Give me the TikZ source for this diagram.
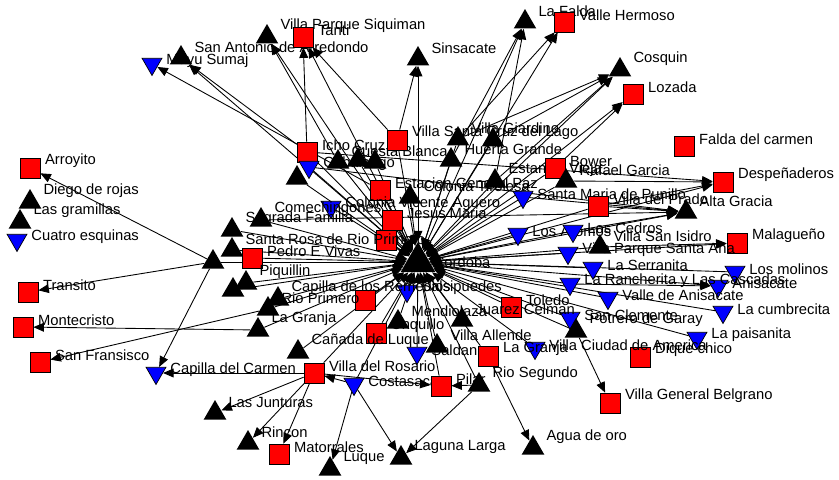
\documentclass[tikz,border=0pt]{standalone}
\usepackage{fontspec}
\setmainfont{Liberation Sans}
\usetikzlibrary{shapes.geometric, arrows.meta, backgrounds}
\definecolor{townred}{HTML}{FF0000}
\definecolor{townblue}{HTML}{0000FF}
\tikzset{
    lab/.style={font=\fontsize{8.4}{9}\selectfont, inner sep=1pt},
    sq/.style={rectangle, draw, fill=townred, minimum size=0.4cm, inner sep=0pt, label={[lab, label distance=1.5pt, yshift=0.14cm]east:#1}},
    sq/.default={},
    up/.style={regular polygon, regular polygon sides=3, fill=black, minimum size=0.52cm, inner sep=0pt, label={[lab, label distance=2pt, yshift=0.22cm]east:#1}},
    up/.default={},
    dn/.style={regular polygon, regular polygon sides=3, shape border rotate=180, draw, fill=townblue, minimum size=0.46cm, inner sep=0pt, label={[lab, label distance=3pt, yshift=0.06cm]east:#1}},
    dn/.default={},
    hub/.style={regular polygon, regular polygon sides=3, fill=black, minimum size=0.8cm, inner sep=0pt, label={[lab, label distance=1pt]east:#1}},
    arr/.style={-{Triangle[length=6pt, width=5pt]}, line width=0.5pt},
    bi/.style={{Triangle[length=6pt, width=5pt]}-{Triangle[length=6pt, width=5pt]}, line width=0.5pt},
}

\begin{document}
\begin{tikzpicture}[x=0.02cm, y=-0.02cm]
\useasboundingbox (0,0) rectangle (839,480);

% -- hub --
\node[hub=Cordoba] (cba) at (418,262) {};

% -- north --
\node[dn=Mayu Sumaj] (mayu) at (152,64) {};
\node[up=San Antonio de Arredondo] (sanant) at (181,58) {};
\node[up=Villa Parque Siquiman] (vpsiq) at (267,37) {};
\node[sq=Tanti] (tanti) at (303,37) {};
\node[up=Sinsacate] (sinsacate) at (418,59) {};
\node[up=La Falda] (lafalda) at (525,22) {};
\node[sq=Valle Hermoso] (vhermoso) at (564,22) {};
\node[up=Cosquin] (cosquin) at (620,70) {};
\node[sq=Lozada] (lozada) at (633,94) {};
\node[sq=Falda del carmen] (fcarmen) at (684,146) {};

% -- east --
\node[sq=Despeñaderos] (despen) at (723,182) {};
\node[up=Alta Gracia] (altagracia) at (686,212) {};
\node[sq=Malagueño] (malagueno) at (737,243) {};
\node[dn=Los molinos] (losmolinos) at (735,272) {};
\node[dn=Anisacate] (anisacate) at (718,286) {};
\node[dn=La cumbrecita] (cumbrecita) at (723,312) {};
\node[dn=La paisanita] (paisanita) at (697,338) {};
\node[sq=Dique chico] (diquechico) at (640,357) {};
\node[sq=Villa General Belgrano] (vgb) at (610,403) {};

% -- south --
\node[up=Agua de oro] (aguadeoro) at (533,448) {};
\node[up=Laguna Larga] (lagunalarga) at (401,458) {};
\node[up=Luque] (luque) at (330,469) {};
\node[sq=Matorrales] (matorrales) at (279,454) {};
\node[up=Rincon] (rincon) at (248,443) {};
\node[up=Las Junturas] (junturas) at (215,413) {};
\node[dn=Capilla del Carmen] (capcarmen) at (156,373) {};

% -- west --
\node[sq=San Fransisco] (sanfran) at (40,362) {};
\node[sq=Montecristo] (montecristo) at (23,327) {};
\node[sq=Transito] (transito) at (28,292) {};
\node[dn=Cuatro esquinas] (cuatroesq) at (17,240) {};
\node[up=Las gramillas] (gramillas) at (20,222) {};
\node[up=Diego de rojas] (diegorojas) at (30,202) {};
\node[sq=Arroyito] (arroyito) at (30,168) {};

% -- inner north --
\node[sq=Icho Cruz] (icho) at (307,152) {};
\node[up=Cuesta Blanca] (cuesta) at (338,162) {};
\node[dn=Cabalango] (cabalango) at (309,167) {};
\node[up] (n1) at (297,178) {};
\node[up] (n2) at (358,160) {};
\node[up] (n3) at (375,162) {};
\node[sq=Villa Santa Cruz del Lago] (vscdl) at (397,140) {};
\node[up=Villa Giardino] (giardino) at (458,139) {};
\node[up=Huerta Grande] (huerta) at (451,160) {};
\node[up] (n4) at (493,140) {};
\node[sq=Estacion General Paz] (egpaz) at (380,190) {};
\node[up=Colonia Tirolesa] (colonia) at (410,197) {};
\node[dn=Colonia Vicente Aguero] (cvaguero) at (331,207) {};
\node[sq=Jesus Maria] (jesusmaria) at (392,220) {};
\node[sq] (n5) at (386,240) {};

% -- inner east --
\node[up=Estancia Vieja] (estvieja) at (495,181) {};
\node[sq=Bower] (bower) at (555,168) {};
\node[up=Rafael Garcia] (rgarcia) at (566,181) {};
\node[dn=Santa Maria de Punillo] (smaria) at (523,197) {};
\node[sq=Villa del Prado] (vprado) at (598,206) {};
\node[dn=Los Aromos] (aromos) at (518,234) {};
\node[dn=Los Cedros] (cedros) at (573,231) {};
\node[up=Villa San Isidro] (sanisidro) at (600,247) {};
\node[dn=Villa Parque Santa Ana] (vpsa) at (568,253) {};
\node[dn=La Serranita] (serranita) at (593,268) {};
\node[dn=La Rancherita y Las Cascadas] (rancherita) at (570,284) {};
\node[dn=Valle de Anisacate] (vanisacate) at (608,298) {};
\node[dn=San Clemente] (sanclemente) at (570,318) {};
\node[up=Potrero de Garay] (potrero) at (576,331) {};
\node[dn=Villa Ciudad de America] (ciudadam) at (535,348) {};
\node[sq=Toledo] (toledo) at (511,307) {};

% -- inner south --
\node[dn=Salsipuedes] (salsipuedes) at (407,291) {};
\node[sq] (n6) at (365,300) {};
\node[up=Mendiolaza] (mendiolaza) at (398,322) {};
\node[sq=Unquillo] (unquillo) at (376,333) {};
\node[up=Juarez Celman] (jcelman) at (462,320) {};
\node[up=Villa Allende] (vallende) at (437,346) {};
\node[dn=Saldan] (saldan) at (417,353) {};
\node[sq=La Granja] (lagranja) at (488,356) {};
\node[up=Cañada de Luque] (canada) at (298,352) {};
\node[sq=Villa del Rosario] (vrosario) at (314,373) {};
\node[dn=Costasacate] (costasacate) at (354,384) {};
\node[sq=Pilar] (pilar) at (441,386) {};
\node[up=Rio Segundo] (riosegundo) at (479,385) {};

% -- inner west --
\node[up] (n7) at (213,262) {};
\node[up=Sagrada Familia] (sagrada) at (232,230) {};
\node[up=Comechingones] (comech) at (261,220) {};
\node[up=Santa Rosa de Rio Primero] (srosa) at (232,250) {};
\node[sq=Pedro E Vivas] (vivas) at (252,258) {};
\node[up=Piquillin] (piquillin) at (246,283) {};
\node[up] (n8) at (233,290) {};
\node[up=Capilla de los Remedios] (caprem) at (278,299) {};
\node[up=Rio Primero] (rioprimero) at (268,309) {};
\node[up=La Granja] (lagranjaw) at (258,330) {};

\begin{scope}[on background layer]
% -- to the hub, both ways --
\draw[bi] (sanant) -- (cba);
\draw[bi] (vpsiq) -- (cba);
\draw[bi] (tanti) -- (cba);
\draw[bi] (sinsacate) -- (cba);
\draw[bi] (lafalda) -- (cba);
\draw[bi] (vhermoso) -- (cba);
\draw[bi] (cosquin) -- (cba);
\draw[bi] (lozada) -- (cba);
\draw[bi] (despen) -- (cba);
\draw[bi] (altagracia) -- (cba);
\draw[bi] (malagueno) -- (cba);
\draw[bi] (anisacate) -- (cba);

% -- to the hub --
\draw[arr] (icho) -- (cba);
\draw[arr] (cuesta) -- (cba);
\draw[arr] (cabalango) -- (cba);
\draw[arr] (n1) -- (cba);
\draw[arr] (n2) -- (cba);
\draw[arr] (n3) -- (cba);
\draw[arr] (vscdl) -- (cba);
\draw[arr] (giardino) -- (cba);
\draw[arr] (huerta) -- (cba);
\draw[arr] (n4) -- (cba);
\draw[arr] (egpaz) -- (cba);
\draw[arr] (colonia) -- (cba);
\draw[arr] (cvaguero) -- (cba);
\draw[arr] (jesusmaria) -- (cba);
\draw[arr] (n5) -- (cba);
\draw[arr] (estvieja) -- (cba);
\draw[arr] (bower) -- (cba);
\draw[arr] (rgarcia) -- (cba);
\draw[arr] (smaria) -- (cba);
\draw[arr] (vprado) -- (cba);
\draw[arr] (aromos) -- (cba);
\draw[arr] (cedros) -- (cba);
\draw[arr] (sanisidro) -- (cba);
\draw[arr] (vpsa) -- (cba);
\draw[arr] (serranita) -- (cba);
\draw[arr] (rancherita) -- (cba);
\draw[arr] (vanisacate) -- (cba);
\draw[arr] (sanclemente) -- (cba);
\draw[arr] (potrero) -- (cba);
\draw[arr] (ciudadam) -- (cba);
\draw[arr] (toledo) -- (cba);
\draw[arr] (losmolinos) -- (cba);
\draw[arr] (cumbrecita) -- (cba);
\draw[arr] (paisanita) -- (cba);
\draw[arr] (salsipuedes) -- (cba);
\draw[arr] (n6) -- (cba);
\draw[arr] (mendiolaza) -- (cba);
\draw[arr] (unquillo) -- (cba);
\draw[arr] (jcelman) -- (cba);
\draw[arr] (vallende) -- (cba);
\draw[arr] (saldan) -- (cba);
\draw[arr] (lagranja) -- (cba);
\draw[arr] (canada) -- (cba);
\draw[arr] (vrosario) -- (cba);
\draw[arr] (costasacate) -- (cba);
\draw[arr] (pilar) -- (cba);
\draw[arr] (riosegundo) -- (cba);
\draw[arr] (n7) -- (cba);
\draw[arr] (sagrada) -- (cba);
\draw[arr] (comech) -- (cba);
\draw[arr] (srosa) -- (cba);
\draw[arr] (vivas) -- (cba);
\draw[arr] (piquillin) -- (cba);
\draw[arr] (n8) -- (cba);
\draw[arr] (caprem) -- (cba);
\draw[arr] (rioprimero) -- (cba);
\draw[arr] (lagranjaw) -- (cba);

% -- north links --
\draw[arr] (egpaz) -- (mayu);
\draw[arr] (icho) -- (sanant);
\draw[arr] (cuesta) -- (vpsiq);
\draw[arr] (icho) -- (tanti);
\draw[arr] (vscdl) -- (tanti);
\draw[arr] (vscdl) -- (sinsacate);
\draw[arr] (estvieja) -- (lafalda);
\draw[arr] (huerta) -- (lafalda);
\draw[arr] (giardino) -- (vhermoso);
\draw[arr] (estvieja) -- (cosquin);
\draw[arr] (giardino) -- (cosquin);
\draw[arr] (n4) -- (cosquin);
\draw[arr] (bower) -- (lozada);

% -- east links --
\draw[arr] (icho) -- (despen);
\draw[arr] (rgarcia) -- (despen);
\draw[arr] (vprado) -- (despen);
\draw[arr] (cabalango) -- (altagracia);
\draw[arr] (smaria) -- (altagracia);
\draw[arr] (vprado) -- (altagracia);
\draw[arr] (cedros) -- (altagracia);
\draw[arr] (comech) -- (altagracia);
\draw[arr] (sanisidro) -- (malagueno);
\draw[arr] (rancherita) -- (anisacate);
\draw[arr] (potrero) -- (vgb);

% -- south links --
\draw[arr] (vrosario) -- (capcarmen);
\draw[arr] (vrosario) -- (junturas);
\draw[arr] (vrosario) -- (rincon);
\draw[arr] (vrosario) -- (matorrales);
\draw[arr] (vrosario) -- (pilar);
\draw[arr] (costasacate) -- (vrosario);
\draw[arr] (costasacate) -- (luque);
\draw[arr] (costasacate) -- (lagunalarga);
\draw[arr] (riosegundo) -- (lagunalarga);
\draw[arr] (riosegundo) -- (pilar);
\draw[arr] (lagranja) -- (aguadeoro);

% -- west links --
\draw[arr] (n7) -- (arroyito);
\draw[arr] (n7) -- (transito);
\draw[arr] (n7) -- (capcarmen);
\draw[arr] (lagranjaw) -- (montecristo);
\draw[arr] (rioprimero) -- (sanfran);
\end{scope}

\end{tikzpicture}
\end{document}
